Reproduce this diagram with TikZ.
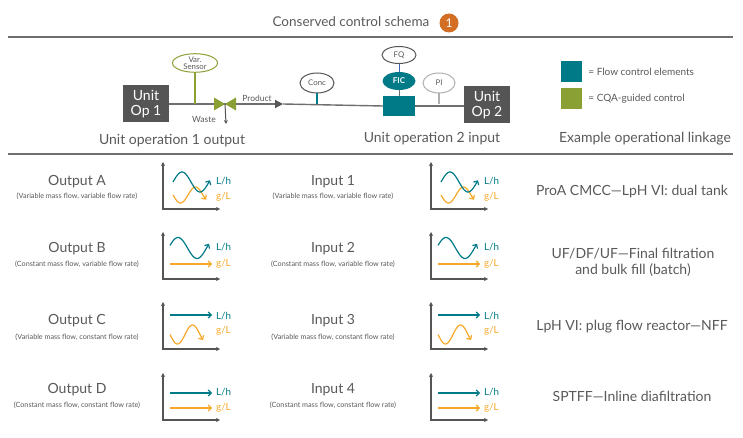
\documentclass[tikz,border=0pt]{standalone}
\usepackage{fontspec}
\setmainfont{Lato}
\usetikzlibrary{arrows.meta,shapes.geometric,positioning}

\definecolor{flowteal}{RGB}{0,122,135}
\definecolor{cqagreen}{RGB}{138,160,52}
\definecolor{boxgray}{RGB}{85,85,85}
\definecolor{txtgray}{RGB}{89,89,89}
\definecolor{curveorange}{RGB}{247,168,40}
\definecolor{badgeorange}{RGB}{211,110,37}
\definecolor{rulegray}{RGB}{110,110,110}
\definecolor{pigray}{RGB}{175,175,175}
\definecolor{fqblue}{RGB}{60,100,180}

\begin{document}
\begin{tikzpicture}[
		x=1pt, y=-1pt,
		every node/.style={text=txtgray, inner sep=0pt},
		UnitOp/.style={fill=boxgray, text=white, minimum width=46pt,
			minimum height=37pt, align=center, font=\fontsize{14}{15}\selectfont},
		Sensor/.style={ellipse, draw=#1, line width=1pt, fill=white,
			align=center, font=\fontsize{7.8}{7.5}\selectfont},
		Pipe/.style={draw=rulegray, line width=1.4pt},
		Axis/.style={{Stealth[length=4pt,width=4pt]}-{Stealth[length=4pt,width=4pt]},
			draw=boxgray, line width=1.4pt},
		Curve/.style={-{Straight Barb[length=3pt,width=6pt]}, line width=1.2pt, draw=#1},
		Big/.style={font=\fontsize{14}{16}\selectfont},
		Small/.style={font=\fontsize{7.2}{8}\selectfont},
		Unit/.style={font=\fontsize{9.8}{10}\selectfont},
	]
	\useasboundingbox (0,0) rectangle (743,438);
	
	% header
	\node [font=\fontsize{13.5}{15}\selectfont] (title) at (351,22) {Conserved control schema};
	\node [circle, fill=badgeorange, text=white, minimum size=19pt,
		font=\fontsize{12}{12}\selectfont] (badge) at (449,23) {1};
	\draw [rulegray, line width=1.2pt] (8,37) -- (733,37);
	\draw [rulegray, line width=1.2pt] (8,154) -- (733,154);
	
	% control schema
	\node [UnitOp] (op1) at (146,104) {Unit\\Op 1};
	\node [UnitOp] (op2) at (487,105) {Unit\\Op 2};
	\node [Sensor=cqagreen, minimum width=45pt, minimum height=18pt] (var) at (195,63) {Var.\\Sensor};
	\node [Sensor=boxgray, minimum width=34pt, minimum height=20pt] (conc) at (317,83) {Conc};
	\node [Sensor=boxgray, minimum width=34pt, minimum height=17pt] (fq) at (399,55) {FQ};
	\node [ellipse, fill=flowteal, text=white, minimum width=33pt, minimum height=18pt,
		font=\bfseries\fontsize{8}{8}\selectfont] (fic) at (399,81) {FIC};
	\node [Sensor=pigray, minimum width=32pt, minimum height=20pt] (pi) at (439,83) {PI};
	\node [fill=flowteal, minimum width=32pt, minimum height=20pt] (fcv) at (399,106) {};
	\coordinate (valve) at (225,104);
	\coordinate (prod) at (283,104);
	\coordinate (waste) at (226,124);
	
	\draw [Pipe] (op1.east) -- (valve);
	\draw [Pipe, -{Triangle[length=8pt,width=8pt,color=boxgray]}] (valve) -- (prod);
	\draw [Pipe] (prod) -- (fcv.west);
	\draw [Pipe] (fcv.east) -- (op2.west |- fcv.east);
	\draw [boxgray, line width=1pt, -{Stealth[length=4pt,width=4pt]}] (valve) -- (waste);
	\fill [cqagreen] (214,97.5) -- (valve) -- (214,110.5) -- cycle;
	\fill [cqagreen] (236,97.5) -- (valve) -- (236,110.5) -- cycle;
	\draw [cqagreen, line width=1.2pt] (var.south) -- (var.south |- valve);
	\draw [flowteal, line width=1.2pt] (conc.south) -- (conc.south |- valve);
	\draw [fqblue, line width=1pt] (fq.south) -- (fic.north);
	\draw [rulegray, line width=1pt] (fic.south) -- (fcv.north);
	\draw [pigray, line width=1.2pt] (pi.south) -- (pi.south |- valve);
	\node [font=\fontsize{8.5}{9}\selectfont] (wastelbl) at (204,119) {Waste};
	\node [font=\fontsize{8.5}{9}\selectfont] (prodlbl) at (257,98) {Product};
	
	% legend
	\node [fill=flowteal, minimum size=21pt] (legfc) at (571.5,71.5) {};
	\node [fill=cqagreen, minimum size=21pt] (legcqa) at (571.5,98.5) {};
	\node [right=6pt of legfc, font=\fontsize{10}{11}\selectfont] (legfctxt) {= Flow control elements};
	\node [right=6pt of legcqa, font=\fontsize{10}{11}\selectfont] (legcqatxt) {= CQA-guided control};
	
	% column heads
	\node [Big] (head1) at (172,141) {Unit operation 1 output};
	\node [Big] (head2) at (432,139) {Unit operation 2 input};
	\node [Big] (head3) at (645,139) {Example operational linkage};
	
	% row texts
	\node [Big] (outA) at (77,182) {Output A};
	\node [Small] (outAsub) at (77,196) {(Variable mass flow, variable flow rate)};
	\node [Big] (inA) at (333,182) {Input 1};
	\node [Small] (inAsub) at (333,196) {(Variable mass flow, variable flow rate)};
	\node [Big] (exA) at (632,192) {ProA CMCC—LpH VI: dual tank};
	
	\node [Big] (outB) at (77,249) {Output B};
	\node [Small] (outBsub) at (77,264) {(Constant mass flow, variable flow rate)};
	\node [Big] (inB) at (333,249) {Input 2};
	\node [Small] (inBsub) at (333,264) {(Constant mass flow, variable flow rate)};
	\node [Big, align=center] (exB) at (633,262) {UF/DF/UF—Final filtration\\and bulk fill (batch)};
	
	\node [Big] (outC) at (77,321) {Output C};
	\node [Small] (outCsub) at (77,337) {(Variable mass flow, constant flow rate)};
	\node [Big] (inC) at (333,321) {Input 3};
	\node [Small] (inCsub) at (333,337) {(Variable mass flow, constant flow rate)};
	\node [Big] (exC) at (632,327) {LpH VI: plug flow reactor—NFF};
	
	\node [Big] (outD) at (77,390) {Output D};
	\node [Small] (outDsub) at (77,405) {(Constant mass flow, constant flow rate)};
	\node [Big] (inD) at (333,390) {Input 4};
	\node [Small] (inDsub) at (333,405) {(Constant mass flow, constant flow rate)};
	\node [Big] (exD) at (632,396) {SPTFF—Inline diafiltration};
	
	% charts
	\foreach \cx in {163,431}{
		\begin{scope}[shift={(\cx,209)}, y=1pt]
			\draw [Axis] (0,47) -- (0,0) -- (57,0);
			\draw [Curve=curveorange] plot[domain=10:43, samples=40, smooth] (\x,{14-8*sin(12*(\x-10))});
			\draw [Curve=flowteal] plot[domain=10:47, samples=40, smooth] (\x,{27+10*sin(10*(\x-10))});
			\node [right, Unit, text=flowteal] (lhA\cx) at (53,28) {L/h};
			\node [right, Unit, text=curveorange] (glA\cx) at (53,12) {g/L};
		\end{scope}
		\begin{scope}[shift={(\cx,279)}, y=1pt]
			\draw [Axis] (0,47) -- (0,0) -- (57,0);
			\draw [Curve=curveorange] (7,15) -- (49,15);
			\draw [Curve=flowteal] plot[domain=7:46, samples=40, smooth] (\x,{31+10.5*sin(9.47*(\x-5.5))});
			\node [right, Unit, text=flowteal] (lhB\cx) at (53,32) {L/h};
			\node [right, Unit, text=curveorange] (glB\cx) at (53,15) {g/L};
		\end{scope}
		\begin{scope}[shift={(\cx,349)}, y=1pt]
			\draw [Axis] (0,47) -- (0,0) -- (57,0);
			\draw [Curve=flowteal] (7,34) -- (49,34);
			\draw [Curve=curveorange] plot[domain=7:40, samples=40, smooth] (\x,{14.5-9.5*sin(12*(\x-7))});
			\node [right, Unit, text=flowteal] (lhC\cx) at (53,33) {L/h};
			\node [right, Unit, text=curveorange] (glC\cx) at (53,18) {g/L};
		\end{scope}
		\begin{scope}[shift={(\cx,420)}, y=1pt]
			\draw [Axis] (0,47) -- (0,0) -- (57,0);
			\draw [Curve=flowteal] (7,27) -- (49,27);
			\draw [Curve=curveorange] (7,12) -- (49,12);
			\node [right, Unit, text=flowteal] (lhD\cx) at (53,28) {L/h};
			\node [right, Unit, text=curveorange] (glD\cx) at (53,12) {g/L};
		\end{scope}
	}
\end{tikzpicture}
\end{document}
